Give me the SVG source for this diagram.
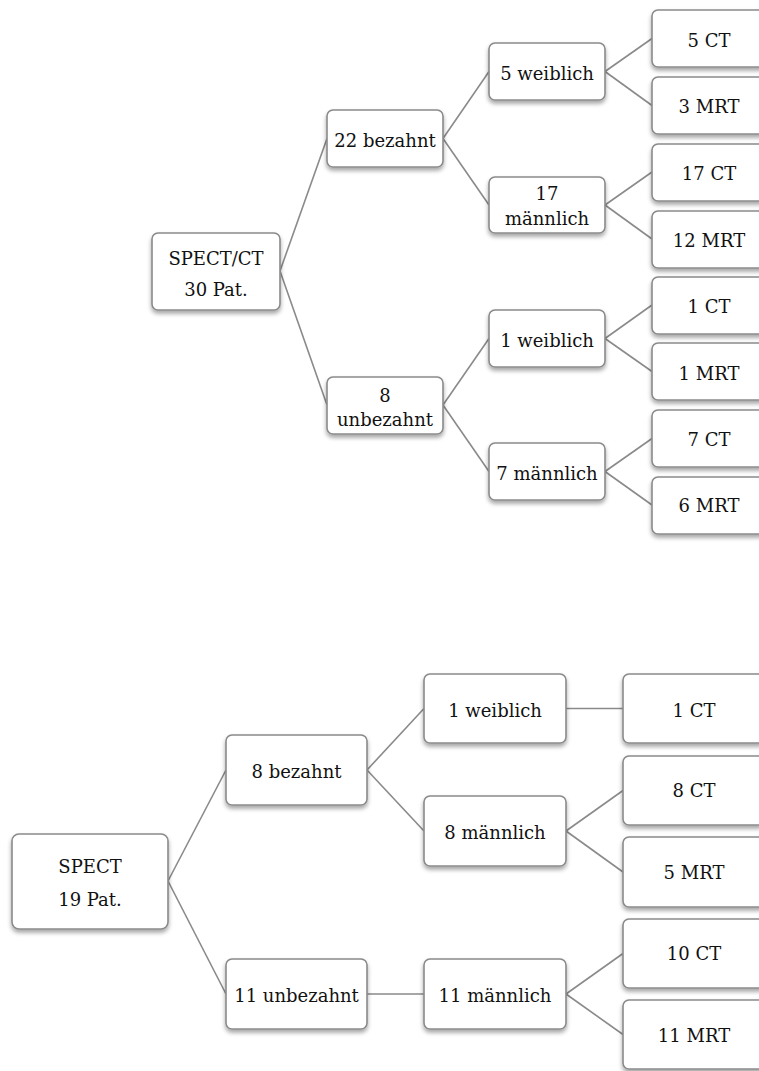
<svg xmlns="http://www.w3.org/2000/svg" width="759" height="1071" viewBox="0 0 759 1071">
<defs>
<filter id="sh" x="-20%" y="-20%" width="140%" height="160%">
<feDropShadow dx="0" dy="3" stdDeviation="2" flood-color="#000" flood-opacity="0.35"/>
</filter>
<style>
.box{fill:#fff;stroke:#8a8a8a;stroke-width:1.6;filter:url(#sh)}
.t{font-family:"DejaVu Serif","Liberation Serif",serif;font-size:18px;fill:#111;text-anchor:middle}
.c line{stroke:#8a8a8a;stroke-width:1.6}
</style>
</defs>
<rect width="759" height="1071" fill="#fff"/>
<g class="c" id="connectors">
<line x1="280" y1="271" x2="327" y2="138.5"/>
<line x1="280" y1="271" x2="327" y2="405"/>
<line x1="443" y1="138.5" x2="489" y2="71.5"/>
<line x1="443" y1="138.5" x2="489" y2="205"/>
<line x1="443" y1="405" x2="489" y2="338.5"/>
<line x1="443" y1="405" x2="489" y2="471.5"/>
<line x1="605" y1="71.5" x2="652" y2="38.5"/>
<line x1="605" y1="71.5" x2="652" y2="105.5"/>
<line x1="605" y1="205" x2="652" y2="172"/>
<line x1="605" y1="205" x2="652" y2="239"/>
<line x1="605" y1="338.5" x2="652" y2="305"/>
<line x1="605" y1="338.5" x2="652" y2="371.5"/>
<line x1="605" y1="471.5" x2="652" y2="438.5"/>
<line x1="605" y1="471.5" x2="652" y2="505"/>
<line x1="168" y1="881" x2="226" y2="770"/>
<line x1="168" y1="881" x2="226" y2="994"/>
<line x1="367" y1="770" x2="424" y2="708.5"/>
<line x1="367" y1="770" x2="424" y2="831"/>
<line x1="566" y1="708.5" x2="623" y2="708.5"/>
<line x1="566" y1="831" x2="623" y2="790.5"/>
<line x1="566" y1="831" x2="623" y2="872"/>
<line x1="367" y1="994" x2="424" y2="994"/>
<line x1="566" y1="994" x2="623" y2="953.5"/>
<line x1="566" y1="994" x2="623" y2="1034.5"/>
</g>
<g id="n-spectct"><rect class="box" x="152" y="233" width="128" height="77" rx="6"/><text class="t" x="216" y="265">SPECT/CT</text><text class="t" x="216" y="296">30 Pat.</text></g>
<g id="n-22bez"><rect class="box" x="327" y="110" width="116" height="57" rx="6"/><text class="t" x="385" y="147">22 bezahnt</text></g>
<g id="n-8unbez"><rect class="box" x="327" y="377" width="116" height="57" rx="6"/><text class="t" x="385" y="402">8</text><text class="t" x="385" y="426">unbezahnt</text></g>
<g id="n-5w"><rect class="box" x="489" y="43" width="116" height="57" rx="6"/><text class="t" x="547" y="80">5 weiblich</text></g>
<g id="n-17m"><rect class="box" x="489" y="177" width="116" height="56" rx="6"/><text class="t" x="547" y="200">17</text><text class="t" x="547" y="225">männlich</text></g>
<g id="n-1w"><rect class="box" x="489" y="310" width="116" height="57" rx="6"/><text class="t" x="547" y="347">1 weiblich</text></g>
<g id="n-7m"><rect class="box" x="489" y="443" width="116" height="57" rx="6"/><text class="t" x="547" y="480">7 männlich</text></g>
<g id="n-5ct"><rect class="box" x="652" y="10" width="114" height="57" rx="6"/><text class="t" x="709" y="47">5 CT</text></g>
<g id="n-3mrt"><rect class="box" x="652" y="77" width="114" height="57" rx="6"/><text class="t" x="709" y="113">3 MRT</text></g>
<g id="n-17ct"><rect class="box" x="652" y="144" width="114" height="57" rx="6"/><text class="t" x="709" y="180">17 CT</text></g>
<g id="n-12mrt"><rect class="box" x="652" y="211" width="114" height="57" rx="6"/><text class="t" x="709" y="247">12 MRT</text></g>
<g id="n-1ct"><rect class="box" x="652" y="277" width="114" height="57" rx="6"/><text class="t" x="709" y="313">1 CT</text></g>
<g id="n-1mrt"><rect class="box" x="652" y="343" width="114" height="57" rx="6"/><text class="t" x="709" y="380">1 MRT</text></g>
<g id="n-7ct"><rect class="box" x="652" y="410" width="114" height="57" rx="6"/><text class="t" x="709" y="446">7 CT</text></g>
<g id="n-6mrt"><rect class="box" x="652" y="477" width="114" height="57" rx="6"/><text class="t" x="709" y="512">6 MRT</text></g>
<g id="n-spect"><rect class="box" x="12" y="834" width="156" height="95" rx="7"/><text class="t" x="90" y="873">SPECT</text><text class="t" x="90" y="906">19 Pat.</text></g>
<g id="n-8bez"><rect class="box" x="226" y="735" width="141" height="70" rx="6"/><text class="t" x="296.5" y="778">8 bezahnt</text></g>
<g id="n-11unbez"><rect class="box" x="226" y="959" width="141" height="70" rx="6"/><text class="t" x="296.5" y="1002">11 unbezahnt</text></g>
<g id="n-b1w"><rect class="box" x="424" y="674" width="142" height="69" rx="6"/><text class="t" x="495" y="717">1 weiblich</text></g>
<g id="n-b8m"><rect class="box" x="424" y="796" width="142" height="70" rx="6"/><text class="t" x="495" y="839">8 männlich</text></g>
<g id="n-b11m"><rect class="box" x="424" y="959" width="142" height="70" rx="6"/><text class="t" x="495" y="1002">11 männlich</text></g>
<g id="n-b1ct"><rect class="box" x="623" y="674" width="142" height="69" rx="6"/><text class="t" x="694" y="717">1 CT</text></g>
<g id="n-b8ct"><rect class="box" x="623" y="756" width="142" height="69" rx="6"/><text class="t" x="694" y="797">8 CT</text></g>
<g id="n-b5mrt"><rect class="box" x="623" y="837" width="142" height="70" rx="6"/><text class="t" x="694" y="879">5 MRT</text></g>
<g id="n-b10ct"><rect class="box" x="623" y="919" width="142" height="69" rx="6"/><text class="t" x="694" y="960">10 CT</text></g>
<g id="n-b11mrt"><rect class="box" x="623" y="1000" width="142" height="69" rx="6"/><text class="t" x="694" y="1042">11 MRT</text></g>
</svg>
